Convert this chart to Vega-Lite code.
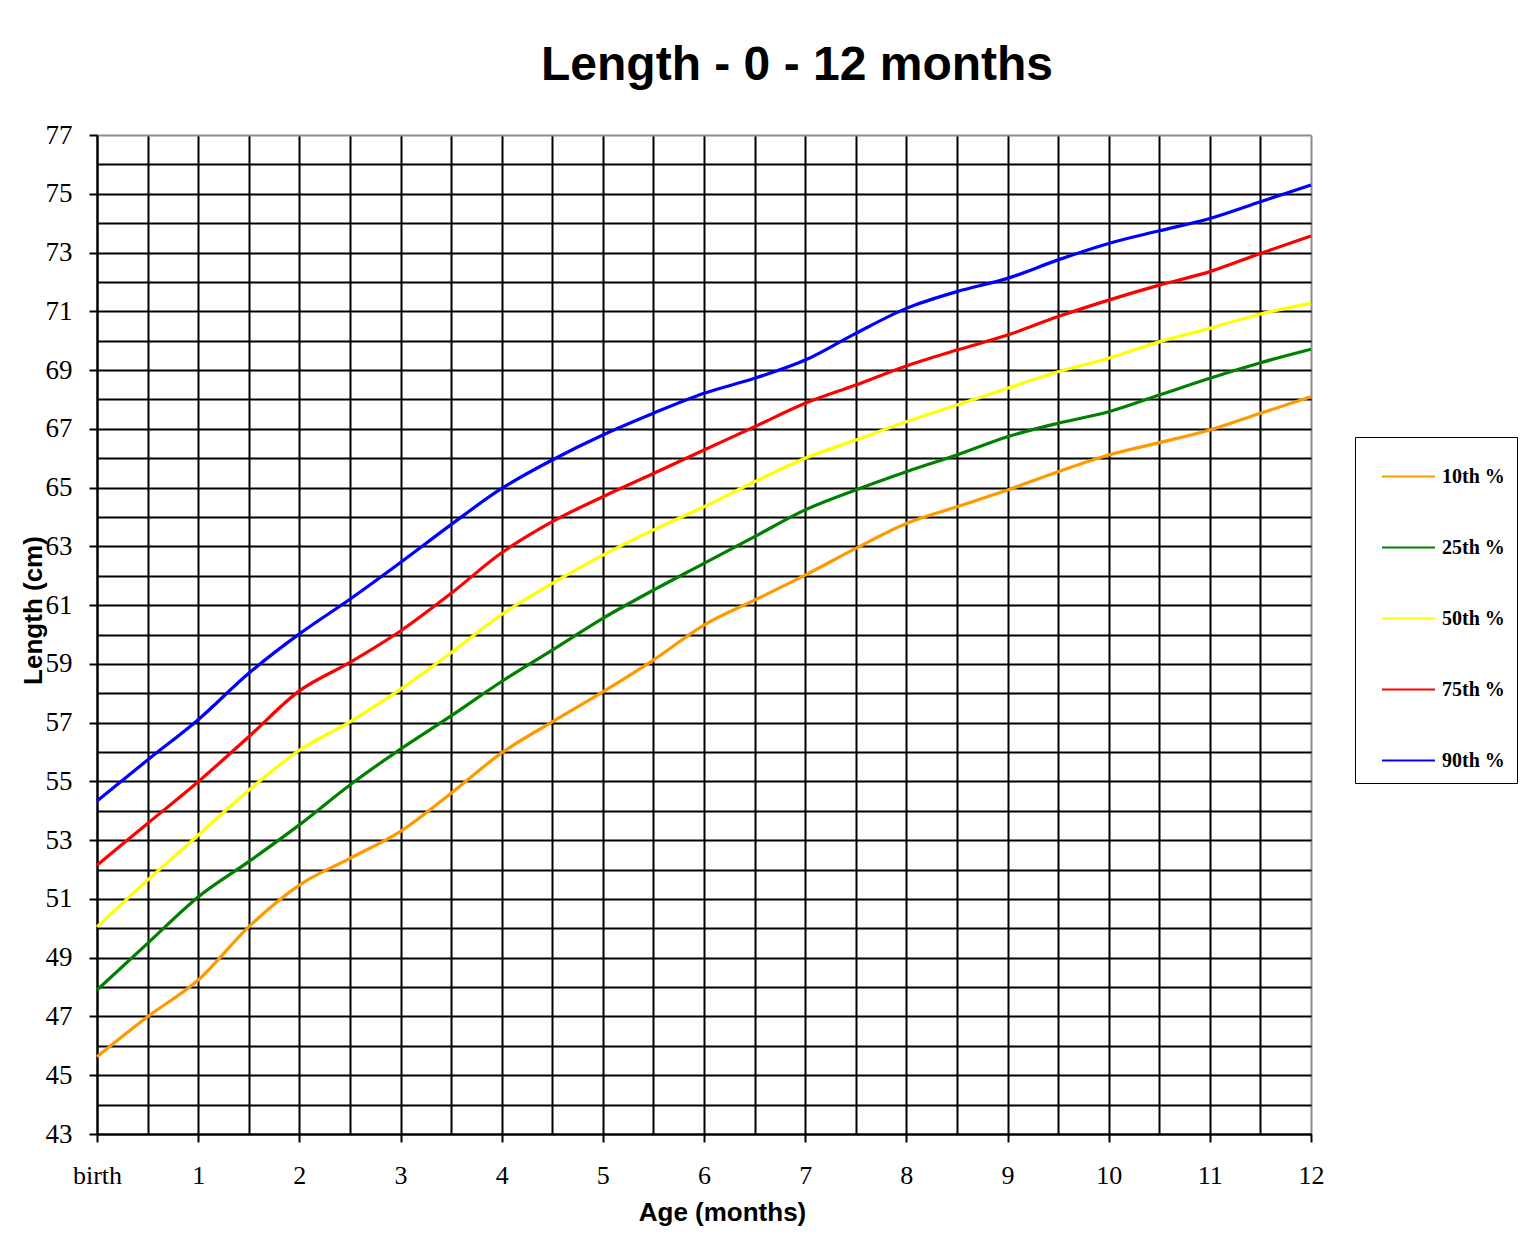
{
  "$schema": "https://vega.github.io/schema/vega-lite/v6.json",
  "autosize": "none",
  "width": 1214,
  "height": 999,
  "padding": {"left": 97, "top": 135, "right": 213, "bottom": 106},
  "background": "white",
  "title": {
    "text": "Length - 0 - 12 months",
    "font": "Liberation Sans",
    "fontSize": 48,
    "fontWeight": "bold",
    "color": "black",
    "anchor": "middle",
    "dx": 93,
    "baseline": "alphabetic",
    "offset": -7
  },
  "config": {
    "view": {"stroke": null},
    "axis": {"labelFont": "Liberation Serif", "labelColor": "black", "titleFont": "Liberation Sans", "titleColor": "black"}
  },
  "data": {
    "values": [
      {"m":0,"p":"10th %","v":45.63},{"m":0.5,"p":"10th %","v":46.99},{"m":1,"p":"10th %","v":48.24},{"m":1.5,"p":"10th %","v":50.05},{"m":2,"p":"10th %","v":51.47},{"m":2.5,"p":"10th %","v":52.38},{"m":3,"p":"10th %","v":53.3},{"m":3.5,"p":"10th %","v":54.6},{"m":4,"p":"10th %","v":55.97},{"m":4.5,"p":"10th %","v":57.03},{"m":5,"p":"10th %","v":58.05},{"m":5.5,"p":"10th %","v":59.13},{"m":6,"p":"10th %","v":60.32},{"m":6.5,"p":"10th %","v":61.17},{"m":7,"p":"10th %","v":62.02},{"m":7.5,"p":"10th %","v":62.93},{"m":8,"p":"10th %","v":63.78},{"m":8.5,"p":"10th %","v":64.35},{"m":9,"p":"10th %","v":64.92},{"m":9.5,"p":"10th %","v":65.54},{"m":10,"p":"10th %","v":66.11},{"m":10.5,"p":"10th %","v":66.53},{"m":11,"p":"10th %","v":66.96},{"m":11.5,"p":"10th %","v":67.53},{"m":12,"p":"10th %","v":68.09},
      {"m":0,"p":"25th %","v":47.9},{"m":0.5,"p":"25th %","v":49.49},{"m":1,"p":"25th %","v":51.07},{"m":1.5,"p":"25th %","v":52.27},{"m":2,"p":"25th %","v":53.52},{"m":2.5,"p":"25th %","v":54.88},{"m":3,"p":"25th %","v":56.1},{"m":3.5,"p":"25th %","v":57.23},{"m":4,"p":"25th %","v":58.4},{"m":4.5,"p":"25th %","v":59.47},{"m":5,"p":"25th %","v":60.55},{"m":5.5,"p":"25th %","v":61.51},{"m":6,"p":"25th %","v":62.42},{"m":6.5,"p":"25th %","v":63.33},{"m":7,"p":"25th %","v":64.24},{"m":7.5,"p":"25th %","v":64.92},{"m":8,"p":"25th %","v":65.54},{"m":8.5,"p":"25th %","v":66.11},{"m":9,"p":"25th %","v":66.73},{"m":9.5,"p":"25th %","v":67.19},{"m":10,"p":"25th %","v":67.58},{"m":10.5,"p":"25th %","v":68.15},{"m":11,"p":"25th %","v":68.72},{"m":11.5,"p":"25th %","v":69.25},{"m":12,"p":"25th %","v":69.71},
      {"m":0,"p":"50th %","v":50.05},{"m":0.5,"p":"50th %","v":51.64},{"m":1,"p":"50th %","v":53.17},{"m":1.5,"p":"50th %","v":54.7},{"m":2,"p":"50th %","v":56.06},{"m":2.5,"p":"50th %","v":57.03},{"m":3,"p":"50th %","v":58.14},{"m":3.5,"p":"50th %","v":59.38},{"m":4,"p":"50th %","v":60.68},{"m":4.5,"p":"50th %","v":61.74},{"m":5,"p":"50th %","v":62.7},{"m":5.5,"p":"50th %","v":63.56},{"m":6,"p":"50th %","v":64.35},{"m":6.5,"p":"50th %","v":65.2},{"m":7,"p":"50th %","v":66.0},{"m":7.5,"p":"50th %","v":66.62},{"m":8,"p":"50th %","v":67.24},{"m":8.5,"p":"50th %","v":67.81},{"m":9,"p":"50th %","v":68.38},{"m":9.5,"p":"50th %","v":68.94},{"m":10,"p":"50th %","v":69.4},{"m":10.5,"p":"50th %","v":69.96},{"m":11,"p":"50th %","v":70.42},{"m":11.5,"p":"50th %","v":70.91},{"m":12,"p":"50th %","v":71.27},
      {"m":0,"p":"75th %","v":52.15},{"m":0.5,"p":"75th %","v":53.57},{"m":1,"p":"75th %","v":54.99},{"m":1.5,"p":"75th %","v":56.52},{"m":2,"p":"75th %","v":58.08},{"m":2.5,"p":"75th %","v":59.05},{"m":3,"p":"75th %","v":60.12},{"m":3.5,"p":"75th %","v":61.4},{"m":4,"p":"75th %","v":62.78},{"m":4.5,"p":"75th %","v":63.84},{"m":5,"p":"75th %","v":64.69},{"m":5.5,"p":"75th %","v":65.48},{"m":6,"p":"75th %","v":66.28},{"m":6.5,"p":"75th %","v":67.07},{"m":7,"p":"75th %","v":67.87},{"m":7.5,"p":"75th %","v":68.49},{"m":8,"p":"75th %","v":69.14},{"m":8.5,"p":"75th %","v":69.68},{"m":9,"p":"75th %","v":70.19},{"m":9.5,"p":"75th %","v":70.82},{"m":10,"p":"75th %","v":71.38},{"m":10.5,"p":"75th %","v":71.89},{"m":11,"p":"75th %","v":72.35},{"m":11.5,"p":"75th %","v":72.97},{"m":12,"p":"75th %","v":73.56},
      {"m":0,"p":"90th %","v":54.33},{"m":0.5,"p":"90th %","v":55.73},{"m":1,"p":"90th %","v":57.1},{"m":1.5,"p":"90th %","v":58.68},{"m":2,"p":"90th %","v":60.02},{"m":2.5,"p":"90th %","v":61.2},{"m":3,"p":"90th %","v":62.45},{"m":3.5,"p":"90th %","v":63.74},{"m":4,"p":"90th %","v":64.97},{"m":4.5,"p":"90th %","v":65.94},{"m":5,"p":"90th %","v":66.79},{"m":5.5,"p":"90th %","v":67.53},{"m":6,"p":"90th %","v":68.21},{"m":6.5,"p":"90th %","v":68.72},{"m":7,"p":"90th %","v":69.34},{"m":7.5,"p":"90th %","v":70.25},{"m":8,"p":"90th %","v":71.1},{"m":8.5,"p":"90th %","v":71.67},{"m":9,"p":"90th %","v":72.12},{"m":9.5,"p":"90th %","v":72.75},{"m":10,"p":"90th %","v":73.31},{"m":10.5,"p":"90th %","v":73.74},{"m":11,"p":"90th %","v":74.16},{"m":11.5,"p":"90th %","v":74.73},{"m":12,"p":"90th %","v":75.3}
    ]
  },
  "mark": {"type": "line", "interpolate": "monotone", "strokeWidth": 3.2},
  "encoding": {
    "x": {
      "field": "m",
      "type": "quantitative",
      "scale": {"domain": [0, 12], "nice": false, "zero": false},
      "axis": {
        "values": [0,0.5,1,1.5,2,2.5,3,3.5,4,4.5,5,5.5,6,6.5,7,7.5,8,8.5,9,9.5,10,10.5,11,11.5,12],
        "labelExpr": "datum.value == 0 ? 'birth' : (datum.value % 1 == 0 ? '' + datum.value : '')",
        "labelFontSize": 26,
        "labelPadding": 20,
        "labelFlush": false,
        "labelOverlap": false,
        "grid": true,
        "gridColor": {"condition": {"test": "datum.value == 12", "value": "#8c8c8c"}, "value": "black"},
        "gridWidth": 2,
        "gridOpacity": 1,
        "domainColor": "black",
        "domainWidth": 2,
        "tickColor": "black",
        "tickWidth": 2,
        "tickSize": {"condition": {"test": "datum.value % 1 == 0", "value": 8}, "value": 0},
        "title": "Age (months)",
        "titleFontSize": 26,
        "titleFontWeight": "bold",
        "titleX": 625,
        "titleY": 86,
        "titleBaseline": "alphabetic",
        "titleAlign": "center"
      }
    },
    "y": {
      "field": "v",
      "type": "quantitative",
      "scale": {"domain": [43, 77], "nice": false, "zero": false},
      "axis": {
        "values": [43,44,45,46,47,48,49,50,51,52,53,54,55,56,57,58,59,60,61,62,63,64,65,66,67,68,69,70,71,72,73,74,75,76,77],
        "labelExpr": "datum.value % 2 == 1 ? '' + datum.value : ''",
        "labelFontSize": 27,
        "labelPadding": 17,
        "labelFlush": false,
        "labelOverlap": false,
        "grid": true,
        "gridColor": {"condition": {"test": "datum.value == 77", "value": "#8c8c8c"}, "value": "black"},
        "gridWidth": 2,
        "gridOpacity": 1,
        "domainColor": "black",
        "domainWidth": 2,
        "tickColor": "black",
        "tickWidth": 2,
        "tickSize": {"condition": {"test": "datum.value % 2 == 1", "value": 8}, "value": 0},
        "title": "Length (cm)",
        "titleFontSize": 26,
        "titleFontWeight": "bold",
        "titleAngle": -90,
        "titleX": -56,
        "titleY": 475,
        "titleBaseline": "alphabetic",
        "titleAlign": "center"
      }
    },
    "color": {
      "field": "p",
      "type": "nominal",
      "scale": {
        "domain": ["10th %", "25th %", "50th %", "75th %", "90th %"],
        "range": ["#ff9900", "#008000", "#ffff00", "#ff0000", "#0000ff"]
      },
      "legend": {
        "orient": "none",
        "legendX": 1258,
        "legendY": 302,
        "title": null,
        "strokeColor": "black",
        "fillColor": "white",
        "padding": 12,
        "symbolType": "stroke",
        "symbolSize": 2809,
        "symbolStrokeWidth": 2,
        "symbolOffset": 14,
        "labelOffset": 6,
        "labelFont": "Liberation Serif",
        "labelFontSize": 20,
        "labelFontWeight": "bold",
        "labelColor": "black",
        "rowPadding": 33
      }
    }
  }
}
